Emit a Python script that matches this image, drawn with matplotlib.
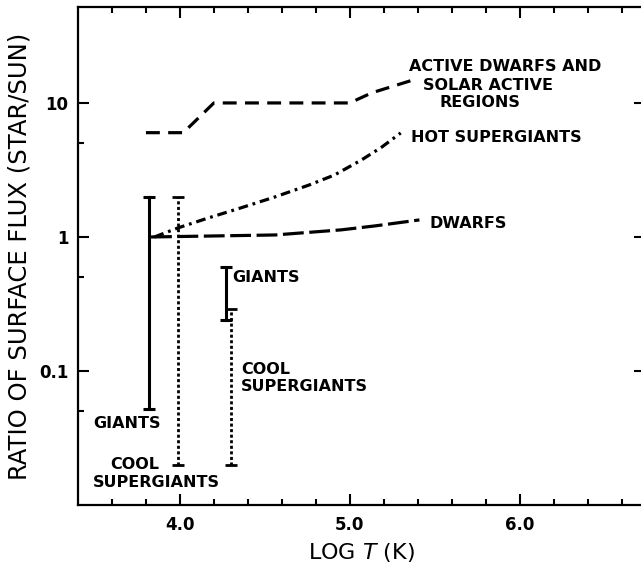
import matplotlib
matplotlib.use("Agg")
from matplotlib import pyplot as plt
from matplotlib.ticker import FixedLocator, NullFormatter

# --- data (log T, surface flux ratio star/sun) ---
active_logt = [3.80, 4.02, 4.20, 5.00, 5.13, 5.37]
active_flux = [6.0, 6.0, 10.0, 10.0, 11.9, 14.8]

hot_logt = [3.85, 3.99, 4.17, 4.36, 4.56, 4.76, 4.91, 5.07, 5.19, 5.30]
hot_flux = [1.0, 1.17, 1.39, 1.65, 1.99, 2.44, 2.90, 3.76, 4.70, 5.97]

dwarf_logt = [3.83, 4.56, 4.95, 5.15, 5.41]
dwarf_flux = [1.0, 1.035, 1.13, 1.21, 1.34]

# ranges: giants (solid) and cool supergiants (dotted)
giant_logt = [3.82, 4.27]
giant_lo = [0.052, 0.24]
giant_hi = [2.0, 0.6]

csg_logt = [3.99, 4.30]
csg_lo = [0.02, 0.02]
csg_hi = [2.0, 0.29]

# labels: text, log T, flux of left/centre point
labels = ["ACTIVE DWARFS AND", "SOLAR ACTIVE", "REGIONS", "HOT SUPERGIANTS",
          "DWARFS", "GIANTS", "COOL", "SUPERGIANTS", "GIANTS", "COOL", "SUPERGIANTS"]
label_x = [5.35, 5.43, 5.53, 5.36, 5.47, 4.31, 4.36, 4.36, 3.49, 3.59, 3.485]
label_y = [18.6, 13.6, 10.0, 5.57, 1.27, 0.50, 0.102, 0.076, 0.0408, 0.0199, 0.0148]

plt.rcParams['font.family'] = ['DejaVu Sans']
plt.rcParams['lines.scale_dashes'] = False

fig = plt.figure(figsize=(6.41, 5.67), dpi=100)
ax = fig.add_axes([0.1217, 0.1093, 0.885, 0.8784])
ax.set_yscale('log')
ax.set_xlim(3.4, 6.74)
ax.set_ylim(0.01, 52)

ax.plot(active_logt, active_flux, color='black', lw=2.3, dashes=(10, 6),
        solid_capstyle='butt')
ax.plot(hot_logt, hot_flux, color='black', lw=2.3, dashes=(7, 3.5, 2, 3.5))
ax.plot(dwarf_logt, dwarf_flux, color='black', lw=2.3, dashes=(15, 4))

for x, lo, hi in zip(giant_logt, giant_lo, giant_hi):
    ax.plot([x, x], [lo, hi], color='black', lw=2.2)
    ax.plot([x, x], [lo, hi], ls='none', marker='_', ms=9, mew=2.2, color='black')

for x, lo, hi in zip(csg_logt, csg_lo, csg_hi):
    ax.plot([x, x], [lo, hi], color='black', lw=2.0, dashes=(2.2, 1.8))
    ax.plot([x, x], [lo, hi], ls='none', marker='_', ms=8, mew=2.0, color='black')

for t, x, y in zip(labels, label_x, label_y):
    ax.text(x, y, t, ha='left', va='center', fontsize=11.5, fontweight='bold')

# axes and ticks
for s in ax.spines.values():
    s.set_linewidth(1.6)
ax.xaxis.set_major_locator(FixedLocator([4.0, 5.0, 6.0]))
ax.xaxis.set_minor_locator(FixedLocator([3.6, 3.8, 4.2, 4.4, 4.6, 4.8,
                                         5.2, 5.4, 5.6, 5.8, 6.2, 6.4, 6.6]))
ax.set_xticklabels(['4.0', '5.0', '6.0'])
ax.yaxis.set_major_locator(FixedLocator([0.1, 1, 10]))
ax.yaxis.set_minor_locator(FixedLocator([0.05, 0.5, 5]))
ax.yaxis.set_minor_formatter(NullFormatter())
ax.set_yticklabels(['0.1', '1', '10'])
ax.tick_params(which='both', direction='in', top=True, right=True, width=1.5,
               labelsize=12)
ax.tick_params(which='major', length=8, pad=8)
ax.tick_params(axis='y', which='major', pad=7)
ax.tick_params(which='minor', length=4)
ax.tick_params(axis='y', which='minor', right=False)
for lab in ax.get_xticklabels() + ax.get_yticklabels():
    lab.set_fontweight('bold')

ax.set_xlabel('LOG $T$ (K)', fontsize=16, labelpad=5)
ax.set_ylabel('RATIO OF SURFACE FLUX (STAR/SUN)', fontsize=17.5, labelpad=5)

fig.savefig('out.png', dpi=100)
